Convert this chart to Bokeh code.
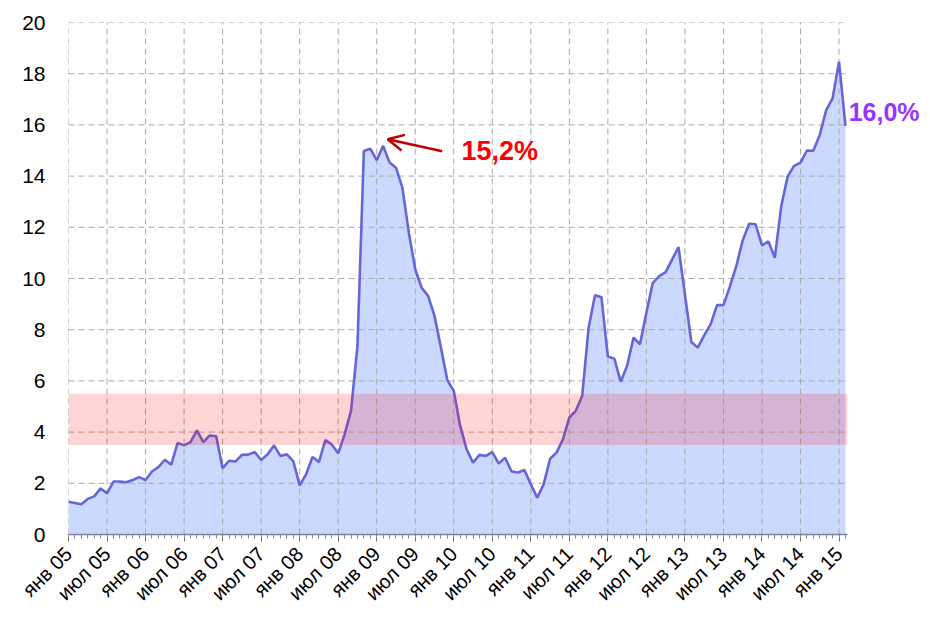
from bokeh.plotting import figure
from bokeh.models import (Range1d, FixedTicker, BoxAnnotation, Label, Arrow,
                          OpenHead, ColumnDataSource)
from bokeh.embed import file_html
from bokeh.resources import INLINE

# Monthly values, Jan 2005 .. Feb 2015 (%)
values = [
    1.28, 1.23, 1.18, 1.39, 1.49, 1.80, 1.61, 2.07, 2.07, 2.04, 2.13, 2.24,   # 2005
    2.13, 2.46, 2.63, 2.92, 2.73, 3.58, 3.48, 3.61, 4.07, 3.61, 3.87, 3.84,   # 2006
    2.59, 2.88, 2.85, 3.11, 3.12, 3.22, 2.91, 3.13, 3.48, 3.07, 3.13, 2.87,   # 2007
    1.92, 2.35, 3.03, 2.83, 3.69, 3.52, 3.17, 3.91, 4.83, 7.36, 14.98, 15.07, # 2008
    14.62, 15.18, 14.53, 14.33, 13.55, 11.79, 10.36, 9.64, 9.32, 8.54, 7.30, 6.03,  # 2009
    5.61, 4.24, 3.33, 2.81, 3.11, 3.07, 3.22, 2.77, 3.00, 2.46, 2.42, 2.52,   # 2010
    1.96, 1.44, 1.96, 2.96, 3.20, 3.72, 4.57, 4.83, 5.41, 8.08, 9.35, 9.27,   # 2011
    6.95, 6.87, 5.97, 6.59, 7.69, 7.43, 8.66, 9.83, 10.09, 10.25, 10.74, 11.23,  # 2012
    9.38, 7.52, 7.30, 7.78, 8.21, 8.96, 8.96, 9.68, 10.48, 11.49, 12.14, 12.12,  # 2013
    11.29, 11.45, 10.81, 12.82, 13.99, 14.40, 14.53, 15.00, 14.99, 15.61, 16.58, 17.04,  # 2014
    18.47, 15.96,                                                              # 2015
]
months = list(range(len(values)))

tick_positions = list(range(0, 121, 6))
tick_labels = ["янв 05", "июл 05", "янв 06", "июл 06", "янв 07", "июл 07",
               "янв 08", "июл 08", "янв 09", "июл 09", "янв 10", "июл 10",
               "янв 11", "июл 11", "янв 12", "июл 12", "янв 13", "июл 13",
               "янв 14", "июл 14", "янв 15"]
y_ticks = list(range(0, 21, 2))

band_low, band_high = 3.5, 5.5
peak_text = "15,2%"
last_text = "16,0%"

FONT = "Liberation Sans"
X_END = 121.3          # right edge of the chart area (months)
GRID = "#AAAAAA"

src = ColumnDataSource(dict(x=months, y=values, base=[0] * len(values)))

p = figure(width=922, height=615, output_backend="svg", toolbar_location=None,
           x_range=Range1d(0, 133.0), y_range=Range1d(0, 20),
           min_border_left=68, min_border_right=0, min_border_top=22,
           min_border_bottom=80, background_fill_color="white",
           border_fill_color="white")
p.outline_line_color = None
p.xgrid.visible = False
p.ygrid.visible = False

p.varea(x="x", y1="base", y2="y", source=src, fill_color="#CCD9FF")

# dashed grid drawn over the fill, limited to the chart area
p.segment(x0=[0] * len(y_ticks), x1=[X_END] * len(y_ticks), y0=y_ticks, y1=y_ticks,
          line_color=GRID, line_dash="6 4", line_width=1)
p.segment(x0=tick_positions, x1=tick_positions, y0=[0] * len(tick_positions),
          y1=[20] * len(tick_positions),
          line_color=GRID, line_dash="6 4", line_width=1)

p.line(x="x", y="y", source=src, line_color="#6666D9", line_width=2.6)

band = BoxAnnotation(left=0, right=X_END, bottom=band_low, top=band_high,
                     fill_color="#FF0000", fill_alpha=0.17, line_color=None)
p.add_layout(band)

# axes
p.xaxis.bounds = (0, X_END)
p.xaxis.ticker = FixedTicker(ticks=tick_positions, minor_ticks=months)
p.xaxis.major_label_overrides = {t: l for t, l in zip(tick_positions, tick_labels)}
p.xaxis.major_label_orientation = 0.785398
p.xaxis.major_label_text_font = FONT
p.xaxis.major_label_text_font_size = "20px"
p.xaxis.major_label_text_color = "#000000"
p.xaxis.axis_line_color = "#7F7F9F"
p.xaxis.axis_line_width = 1.5
p.xaxis.major_tick_line_color = "#666666"
p.xaxis.major_tick_in = 0
p.xaxis.major_tick_out = 7
p.xaxis.minor_tick_line_color = "#888888"
p.xaxis.minor_tick_in = 0
p.xaxis.minor_tick_out = 4
p.xaxis.major_label_standoff = 9

p.yaxis.ticker = FixedTicker(ticks=y_ticks)
p.yaxis.major_label_text_font = FONT
p.yaxis.major_label_text_font_size = "21px"
p.yaxis.major_label_text_color = "#000000"
p.yaxis.axis_line_color = None
p.yaxis.major_tick_line_color = None
p.yaxis.minor_tick_line_color = None
p.yaxis.major_label_standoff = 17

# annotations
arrow = Arrow(end=OpenHead(size=16, line_color="#C00000", line_width=2.5),
              x_start=58.2, y_start=14.97, x_end=49.7, y_end=15.44,
              line_color="#C00000", line_width=2.5)
p.add_layout(arrow)

p.add_layout(Label(x=61.2, y=15.0, text=peak_text, text_font=FONT,
                   text_font_size="27px", text_font_style="bold",
                   text_color="#FF0000", text_baseline="middle"))
p.add_layout(Label(x=121.5, y=16.5, text=last_text, text_font=FONT,
                   text_font_size="25px", text_font_style="bold",
                   text_color="#9933FF", text_baseline="middle"))

open("out.html", "w").write(file_html(p, INLINE))
